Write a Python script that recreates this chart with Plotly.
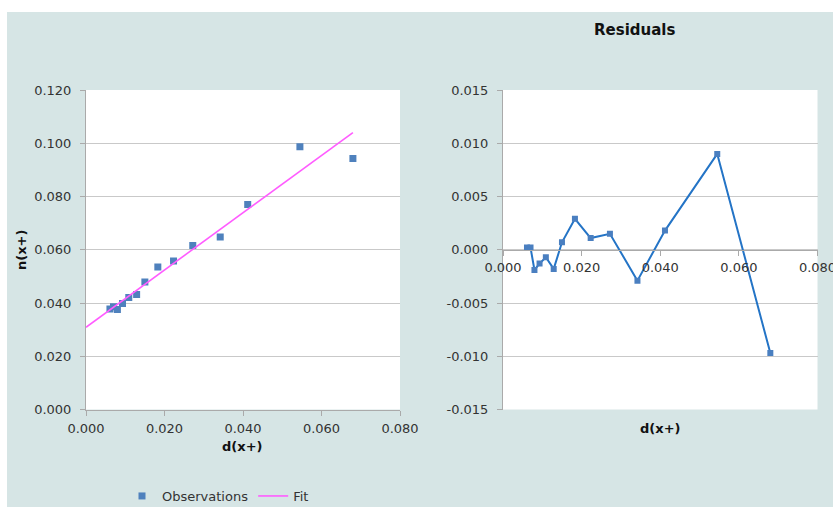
import plotly.graph_objects as go

# ---- data ----
d_x = [0.0061, 0.0070, 0.0080, 0.0093, 0.0109, 0.0129, 0.0150, 0.0183,
       0.0223, 0.0272, 0.0342, 0.0412, 0.0545, 0.0680]
n_x = [0.0377, 0.0386, 0.0376, 0.0398, 0.0421, 0.0432, 0.0479, 0.0535,
       0.0558, 0.0616, 0.0648, 0.0770, 0.0987, 0.0943]
residuals = [0.0002, 0.0002, -0.0019, -0.0013, -0.0007, -0.0018, 0.0007, 0.0029,
             0.0011, 0.0015, -0.0029, 0.0018, 0.0090, -0.0097]
fit_intercept = 0.0309
fit_slope = 1.075
fit_x = [0.0, 0.068]
fit_y = [fit_intercept + fit_slope * v for v in fit_x]

x_ticks = [0.0, 0.02, 0.04, 0.06, 0.08]
x_ticktext = ["0.000", "0.020", "0.040", "0.060", "0.080"]
y1_ticks = [0.0, 0.02, 0.04, 0.06, 0.08, 0.10, 0.12]
y1_ticktext = ["0.000", "0.020", "0.040", "0.060", "0.080", "0.100", "0.120"]
y2_ticks = [-0.015, -0.01, -0.005, 0.0, 0.005, 0.01, 0.015]
y2_ticktext = ["-0.015", "-0.010", "-0.005", "0.000", "0.005", "0.010", "0.015"]

W, H = 833, 507
BG = "#d6e5e5"
GRID = "#c9c9c9"
AXIS = "#aaaaaa"
TXT = "#333333"
TITLE = "#111111"
FONT = "DejaVu Sans, Verdana, sans-serif"

# plot-area geometry (pixels)
L1, R1 = 86, 400
L2, R2 = 503, 817.5
TOP, BOT = 90, 409.5

def px(v):
    return v / W

def py(v):
    return (H - v) / H

ydom = [py(BOT), py(TOP)]
zero_pos = ydom[0] + (ydom[1] - ydom[0]) * 0.5

fig = go.Figure()

fig.add_trace(go.Scatter(
    x=d_x, y=n_x, mode="markers", name="Observations",
    marker=dict(symbol="square", size=7, color="#4f81bd"),
    xaxis="x", yaxis="y"))
fig.add_trace(go.Scatter(
    x=fit_x, y=fit_y, mode="lines", name="Fit",
    line=dict(color="#ff5cff", width=1.6),
    xaxis="x", yaxis="y"))
fig.add_trace(go.Scatter(
    x=d_x, y=residuals, mode="lines+markers", name="Residuals",
    line=dict(color="#2474c6", width=2),
    marker=dict(symbol="square", size=6, color="#4a7fc0"),
    showlegend=False, xaxis="x2", yaxis="y2"))

common_axis = dict(
    showline=True, linecolor=AXIS, linewidth=1,
    ticks="outside", ticklen=5, tickcolor=AXIS,
    tickfont=dict(family=FONT, size=13, color=TXT),
    zeroline=False, automargin=False, ticklabeloverflow="allow",
)

def ann(text, x, y, angle=0, size=13):
    return dict(text=text, xref="paper", yref="paper", x=px(x), y=py(y),
                xanchor="center", yanchor="middle", showarrow=False,
                textangle=angle, font=dict(family=FONT, size=size, color=TITLE))

fig.update_layout(
    template="none",
    width=W, height=H,
    margin=dict(l=0, r=0, t=0, b=0, pad=0, autoexpand=False),
    paper_bgcolor=BG, plot_bgcolor="white",
    font=dict(family=FONT, color=TXT),
    xaxis=dict(domain=[px(L1), px(R1)], anchor="y", range=[0, 0.08],
               tickvals=x_ticks, ticktext=x_ticktext, showgrid=False,
               ticklabelstandoff=2, **common_axis),
    yaxis=dict(domain=ydom, anchor="x", range=[0, 0.12],
               tickvals=y1_ticks, ticktext=y1_ticktext,
               showgrid=True, gridcolor=GRID, gridwidth=1,
               ticklabelstandoff=6, **common_axis),
    xaxis2=dict(domain=[px(L2), px(R2)], anchor="free", position=zero_pos,
                range=[0, 0.08], tickvals=x_ticks, ticktext=x_ticktext,
                showgrid=False, ticklabelstandoff=1, **common_axis),
    yaxis2=dict(domain=ydom, anchor="x2", range=[-0.015, 0.015],
                tickvals=y2_ticks, ticktext=y2_ticktext,
                showgrid=True, gridcolor=GRID, gridwidth=1,
                ticklabelstandoff=6, **common_axis),
    showlegend=True,
    legend=dict(orientation="h", x=px(122), y=py(496), xanchor="left",
                yanchor="middle", bgcolor="rgba(0,0,0,0)",
                font=dict(family=FONT, size=13, color=TXT),
                itemwidth=30, tracegroupgap=0),
    shapes=[
        dict(type="rect", xref="paper", yref="paper", x0=0, x1=1,
             y0=py(12), y1=1, fillcolor="white", line=dict(width=0),
             layer="below"),
        dict(type="rect", xref="paper", yref="paper", x0=0, x1=px(7),
             y0=0, y1=1, fillcolor="white", line=dict(width=0),
             layer="below"),
    ],
    annotations=[
        ann("<b>Residuals</b>", 634, 30, size=15),
        ann("<b>n(x+)</b>", 22, 250, angle=-90),
        ann("<b>d(x+)</b>", 242, 446),
        ann("<b>d(x+)</b>", 660, 428),
    ],
)

fig.write_html(
    "out.html",
    config={"displayModeBar": False},
    post_script="document.body.style.margin='0';"
                "document.documentElement.style.overflow='hidden';",
)
